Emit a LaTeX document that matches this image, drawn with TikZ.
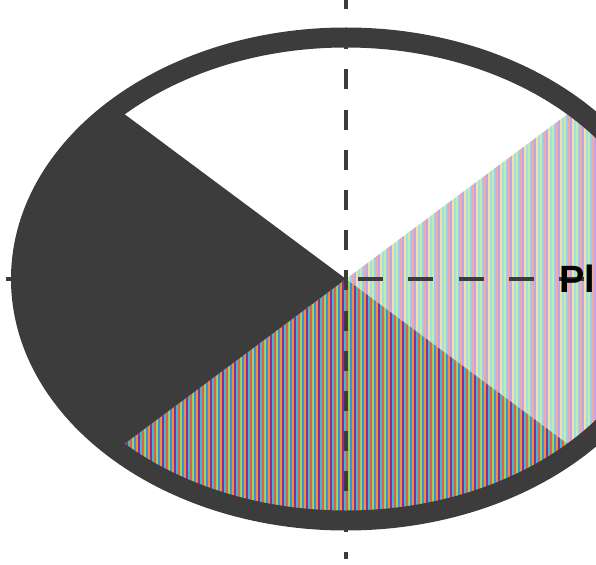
\documentclass[tikz,border=0pt]{standalone}
\usepackage{fontspec}
\newfontfamily\labelfont{Liberation Sans}
\definecolor{darkfill}{HTML}{3C3C3D}
\definecolor{axisgray}{HTML}{3C3C3D}
% bottom sector stripes
\definecolor{b1}{HTML}{8CE05A}
\definecolor{b2}{HTML}{3C8CE0}
\definecolor{b3}{HTML}{F09030}
\definecolor{b4}{HTML}{8A2C9A}
\definecolor{b5}{HTML}{40B8D0}
\definecolor{b6}{HTML}{E06048}
% right sector stripes
\definecolor{r1}{HTML}{C8F0A0}
\definecolor{r2}{HTML}{A0C8F0}
\definecolor{r3}{HTML}{F4A8A0}
\definecolor{r4}{HTML}{B8A8F0}
\definecolor{r5}{HTML}{F4E0A0}
\definecolor{r6}{HTML}{A0E0E0}
\newcommand\stripeset[1]{%
  \foreach \k in {1,...,6} {%
    \fill[#1\k] foreach \x in {0,12,...,600} {(\x+2*\k-2,-20) rectangle ++(2,610)};%
  }%
}
\begin{document}
\begin{tikzpicture}[x=1pt,y=-1pt,
  axis/.style={draw=axisgray, line width=4pt},
  border/.style={draw=darkfill, line width=20pt},
  lbl/.style={font=\labelfont\bfseries\fontsize{38}{40}\selectfont, text=black, inner sep=0pt, anchor=base west}]
\useasboundingbox (0,0) rectangle (596,564);
\clip (0,0) rectangle (596,564);
\coordinate (c) at (346,279);
\coordinate (ur) at (1003,-210);
\coordinate (lr) at (1003,768);
\coordinate (ll) at (-311,768);
\coordinate (ul) at (-311,-210);
% right sector
\begin{scope}
  \clip (c) ellipse [x radius=325pt, y radius=241.5pt];
  \clip (c) -- (ur) -- (lr) -- cycle;
  \stripeset{r}
\end{scope}
% bottom sector
\begin{scope}
  \clip (c) ellipse [x radius=325pt, y radius=241.5pt];
  \clip (c) -- (lr) -- (ll) -- cycle;
  \stripeset{b}
\end{scope}
% left sector
\begin{scope}
  \clip (c) ellipse [x radius=325pt, y radius=241.5pt];
  \fill[darkfill] (c) -- (ll) -- (ul) -- cycle;
\end{scope}
% border
\draw[border] (c) ellipse [x radius=325pt, y radius=241.5pt];
% axes
\coordinate (vt) at (346,-11);
\coordinate (vb) at (346,559);
\coordinate (hl) at (6,279);
\coordinate (hr) at (700,279);
\draw[axis, dash pattern=on 20pt off 20.2pt] (vt) -- (vb);
\draw[axis, line width=3.5pt, dash pattern=on 25pt off 25.3pt] (hl) -- (hr);
% label
\node[lbl] (label) at (559,292) {Pl};
\end{tikzpicture}
\end{document}
